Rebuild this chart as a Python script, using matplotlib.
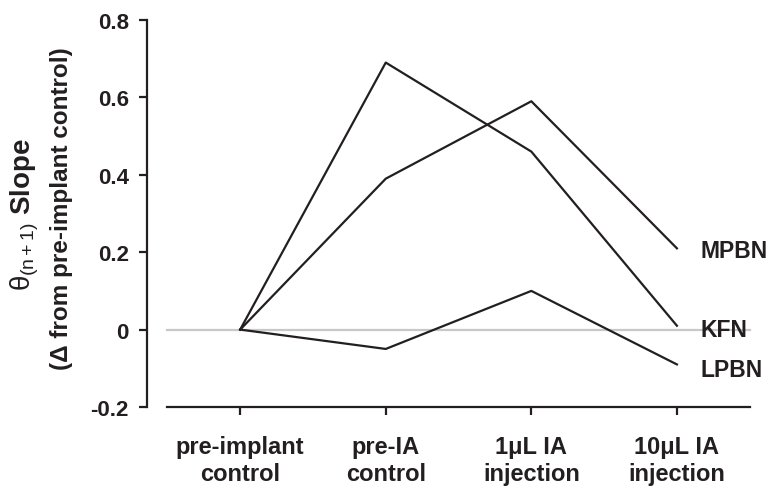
import matplotlib
matplotlib.use("Agg")
import matplotlib.pyplot as plt

# Conditions along the x axis
conditions = ["pre-implant\ncontrol", "pre-IA\ncontrol", "1\u03bcL IA\ninjection", "10\u03bcL IA\ninjection"]

# Change in theta(n+1) slope relative to the pre-implant control
mpbn = [0.0, 0.39, 0.59, 0.21]
kfn = [0.0, 0.69, 0.46, 0.01]
lpbn = [0.0, -0.05, 0.10, -0.09]

series_names = ["MPBN", "KFN", "LPBN"]
series_values = [mpbn, kfn, lpbn]

y_ticks = [-0.2, 0, 0.2, 0.4, 0.6, 0.8]
y_tick_labels = ["-0.2", "0", "0.2", "0.4", "0.6", "0.8"]

ink = "#231f20"
plt.rcParams["font.family"] = ["Liberation Sans", "DejaVu Sans"]
plt.rcParams["mathtext.fontset"] = "custom"
plt.rcParams["mathtext.rm"] = "Liberation Sans"
plt.rcParams["mathtext.it"] = "Liberation Sans"
plt.rcParams["mathtext.bf"] = "Liberation Sans:bold"

fig = plt.figure(figsize=(7.73, 4.89), dpi=100)
ax = fig.add_axes([147 / 773, 1 - 408 / 489, 1 - 147 / 773, (408 - 21) / 489])

x = list(range(len(conditions)))
ax.set_xlim(-0.64, 3.66)
ax.set_ylim(-0.2, 0.8)

# zero reference line
ax.plot([-0.5, 3.5], [0, 0], color="#c8c8c8", lw=1.6, zorder=1, clip_on=False)

# small vertical nudges so the end labels sit clear of each other
label_offsets = {"MPBN": -0.005, "KFN": -0.01, "LPBN": -0.012}
for name, vals in zip(series_names, series_values):
    ax.plot(x, vals, color=ink, lw=1.6, zorder=2, clip_on=False)
    ax.text(3.16, vals[-1] + label_offsets[name], name, fontsize=16.5, fontweight="bold",
            color=ink, ha="left", va="center", zorder=3)

for side in ["top", "right"]:
    ax.spines[side].set_visible(False)
ax.spines["left"].set_color(ink)
ax.spines["bottom"].set_color(ink)
ax.spines["left"].set_linewidth(1.6)
ax.spines["bottom"].set_linewidth(1.6)
ax.spines["bottom"].set_bounds(-0.5, 3.5)

ax.set_yticks(y_ticks)
ax.set_yticklabels(y_tick_labels, fontsize=16, fontweight="bold", color=ink)
ax.set_xticks(x)
ax.set_xticklabels(conditions, fontsize=17, fontweight="bold", color=ink, linespacing=1.25)
ax.tick_params(axis="both", direction="out", length=6, width=1.6, color=ink)
ax.tick_params(axis="y", pad=7)
ax.tick_params(axis="x", pad=14)

fig.text(25 / 773, 1 - 215 / 489, r"$\theta_{(n+1)}$ " + r"$\mathbf{Slope}$", rotation=90,
         fontsize=20, color=ink, ha="center", va="center")
fig.text(62 / 773, 1 - 209 / 489, "(\u0394 from pre-implant control)", rotation=90,
         fontsize=17.5, fontweight="bold", color=ink, ha="center", va="center")

fig.savefig("out.png", dpi=100)
